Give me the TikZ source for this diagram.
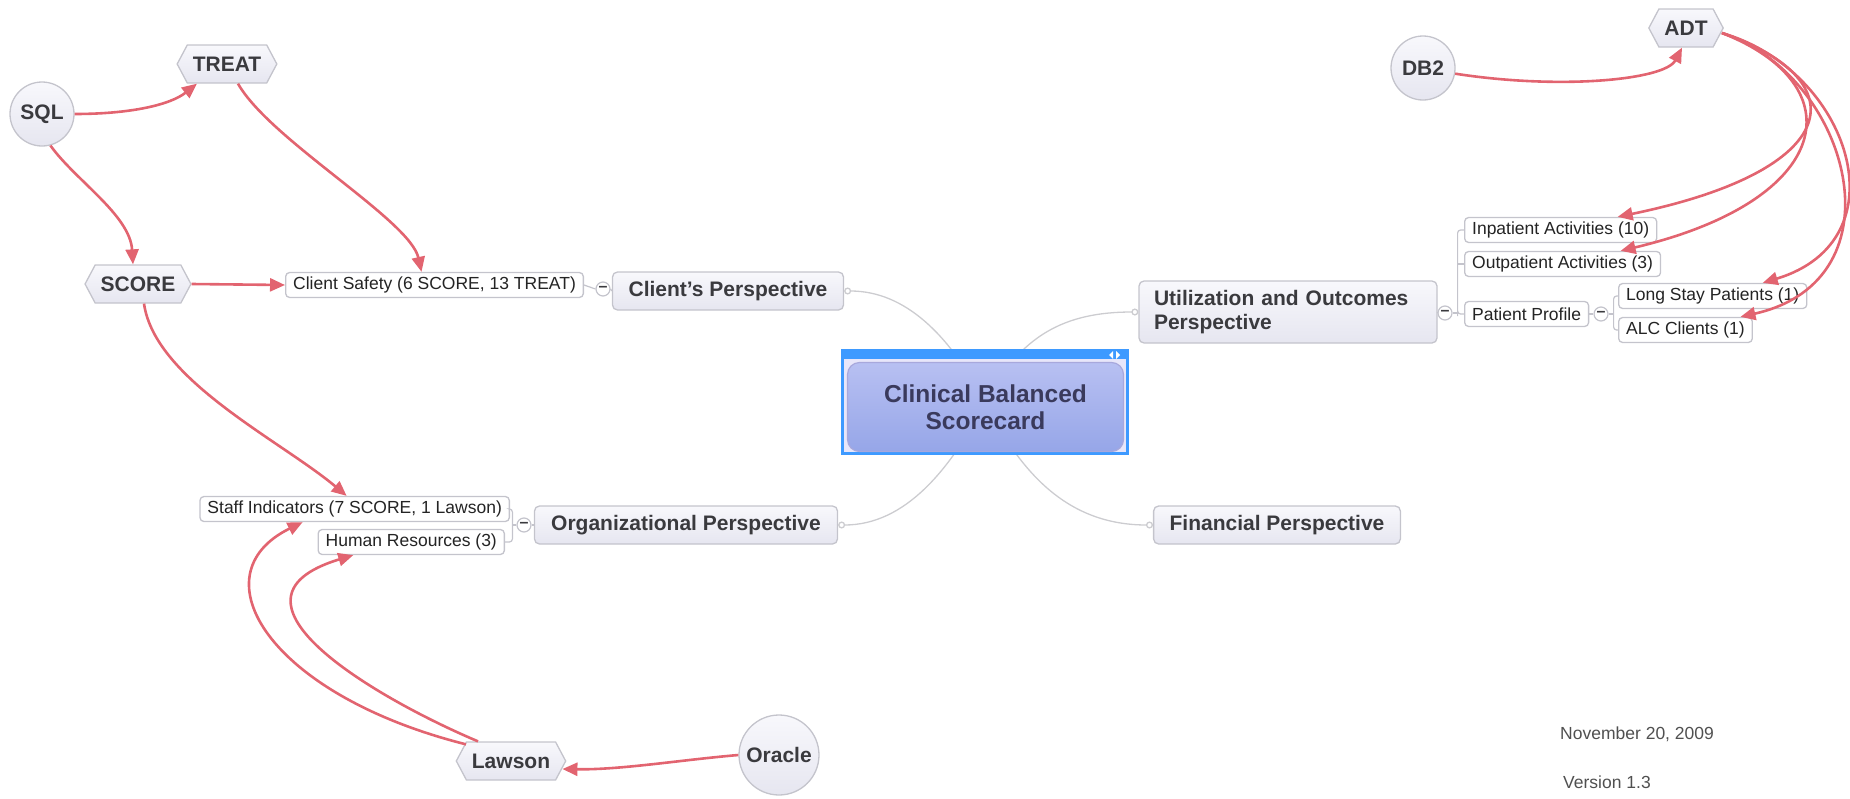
\documentclass[tikz,border=0pt]{standalone}
\usepackage{fontspec}
\setmainfont{Liberation Sans}
\usepackage{tikz}
\usetikzlibrary{positioning,calc,shapes.symbols,arrows.meta}

\definecolor{feedred}{RGB}{226,100,112}
\definecolor{linegrey}{RGB}{196,196,204}
\definecolor{spokegrey}{RGB}{204,204,208}
\definecolor{topfill}{RGB}{248,248,252}
\definecolor{botfill}{RGB}{230,230,240}
\definecolor{topictext}{RGB}{58,58,62}
\definecolor{leaftext}{RGB}{36,36,36}
\definecolor{notetext}{RGB}{80,80,80}
\definecolor{selblue}{RGB}{62,154,255}
\definecolor{selfill}{RGB}{232,230,250}
\definecolor{hubtop}{RGB}{184,192,242}
\definecolor{hubbot}{RGB}{150,166,232}
\definecolor{hubedge}{RGB}{168,168,220}
\definecolor{hubtext}{RGB}{58,58,92}

\begin{document}
\begin{tikzpicture}[x=1pt,y=-1pt,
  topic/.style={draw=linegrey,line width=1.3pt,rounded corners=5pt,top color=topfill,bottom color=botfill,
    text=topictext,font=\fontsize{21}{24}\selectfont\bfseries,minimum height=38pt,inner xsep=16pt},
  leaf/.style={draw=linegrey,line width=1.3pt,rounded corners=4pt,fill=white,text=leaftext,
    font=\fontsize{17.5}{20}\selectfont,minimum height=25pt,inner xsep=7.5pt,inner ysep=2pt},
  hexsrc/.style={signal,signal to=east and west,signal pointer angle=124,draw=linegrey,line width=1.3pt,
    top color=topfill,bottom color=botfill,text=topictext,font=\fontsize{21}{24}\selectfont\bfseries,
    minimum height=38pt,inner xsep=5.5pt},
  dbsrc/.style={circle,draw=linegrey,line width=1.3pt,top color=topfill,bottom color=botfill,
    text=topictext,font=\fontsize{21}{24}\selectfont\bfseries,minimum size=64pt,inner sep=0pt},
  fold/.style={circle,draw=linegrey,line width=1.2pt,fill=white,minimum size=14pt,inner sep=0pt,
    text=topictext,font=\fontsize{16}{16}\selectfont\bfseries},
  hub/.style={draw=hubedge,line width=1.2pt,rounded corners=12pt,top color=hubtop,bottom color=hubbot,
    minimum width=276pt,minimum height=89pt,align=center,text=hubtext,
    font=\fontsize{24.5}{27}\selectfont\bfseries},
  feed/.style={draw=feedred,line width=2.6pt,-{Triangle[length=15pt,width=13pt]}},
  spoke/.style={draw=spokegrey,line width=1.3pt,{Circle[length=7pt,fill=white]}-},
  tree/.style={draw=linegrey,line width=1.2pt,rounded corners=3pt},
  note/.style={text=notetext,font=\fontsize{17.5}{20}\selectfont,anchor=west,inner sep=0pt}]
\useasboundingbox (0,0) rectangle (1850,798);

% sources
\node [dbsrc] (SQL) at (42,114) {SQL};
\node [hexsrc] (TREAT) at (227,64) {TREAT};
\node [hexsrc] (SCORE) at (138,284) {SCORE};
\node [dbsrc] (DB2) at (1423,68) {DB2};
\node [hexsrc] (ADT) at (1686,28) {ADT};
\node [hexsrc] (LAW) at (511,761) {Lawson};
\node [dbsrc,minimum size=80pt] (ORA) at (779,755) {Oracle};

% perspectives
\node [topic,minimum width=231pt] (CP) at (728,291) {Client's Perspective};
\node [topic,minimum width=303pt] (OP) at (686,525) {Organizational Perspective};
\node [topic,minimum width=246pt] (FP) at (1277,525) {Financial Perspective};
\node [topic,align=left,text width=268pt,inner xsep=15pt,minimum height=62pt] (UO) at (1288,312) {Utilization and Outcomes\\Perspective};

% leaves
\node [fold] (CPm) at (603,289) {--};
\node [leaf,anchor=east] (CS) at (584,285) {Client Safety (6 SCORE, 13 TREAT)};
\node [fold] (OPm) at (524,525) {--};
\node [leaf,anchor=east] (SI) at (510,509) {Staff Indicators (7 SCORE, 1 Lawson)};
\node [leaf,anchor=east] (HR) at (505,542) {Human Resources (3)};
\node [fold] (UOm) at (1445,313) {--};
\node [leaf,anchor=west] (IP) at (1464,230) {Inpatient Activities (10)};
\node [leaf,anchor=west] (OUTP) at (1464,264) {Outpatient Activities (3)};
\node [leaf,anchor=west] (PP) at (1464,314) {Patient Profile};
\node [fold] (PPm) at (1601,314) {--};
\node [leaf,anchor=west] (LS) at (1618,296) {Long Stay Patients (1)};
\node [leaf,anchor=west] (ALC) at (1618,330) {ALC Clients (1)};

% spokes to the central topic
\coordinate (hubc) at (985,403);
\draw [spoke] (CP.east) .. controls (905,291) and (950,335) .. (hubc);
\draw [spoke] (UO.west) .. controls (1065,312) and (1020,335) .. (hubc);
\draw [spoke] (OP.east) .. controls (905,525) and (950,470) .. (hubc);
\draw [spoke] (FP.west) .. controls (1065,525) and (1020,470) .. (hubc);

\node [draw=selblue,line width=3pt,fill=selfill,minimum width=285pt,minimum height=103pt,inner sep=0pt] (SEL) at (985,402) {};
\fill [selblue] (SEL.north west) rectangle ($(SEL.north east)+(0,10)$);
\fill [white] (1113,351) -- (1113,359) -- (1109,355) -- cycle;
\fill [white] (1116,351) -- (1116,359) -- (1120,355) -- cycle;
\node [hub] (CBS) at (985.5,407) {Clinical Balanced\\Scorecard};

% tree lines
\draw [tree] (CS.east) -- (CPm.west);
\draw [tree] (CPm.east) -- (CP.west);
\coordinate (OPb) at ($(OPm.west)+(-4,0)$);
\draw [tree] (OP.west) -- (OPm.east);
\draw [tree] (OPm.west) -- (OPb);
\draw [tree] (SI.east) -| (OPb) |- (HR.east);
\coordinate (UOb) at ($(UOm.east)+(5,0)$);
\draw [tree] (UO.east) -- (UOm.west);
\draw [tree] (UOm.east) -- (UOb);
\draw [tree] (IP.west) -| (UOb) |- (PP.west);
\draw [tree] (OUTP.west) -- (OUTP.west -| UOb);
\coordinate (PPb) at ($(PPm.east)+(5,0)$);
\draw [tree] (PP.east) -- (PPm.west);
\draw [tree] (PPm.east) -- (PPb);
\draw [tree] (LS.west) -| (PPb) |- (ALC.west);

% data feeds
\draw [feed] (SQL.east) .. controls (130,114) and (170,105) .. ($(TREAT.south)+(-30,0)$);
\draw [feed] ($(TREAT.south)+(11,0)$) .. controls (270,140) and (410,220) .. ($(CS.north)+(-13,0)$);
\draw [feed] (SQL.-75) .. controls (75,180) and (130,215) .. ($(SCORE.north)+(-5,0)$);
\draw [feed] (SCORE.east) -- (CS.west);
\draw [feed] ($(SCORE.south)+(6,0)$) .. controls (155,380) and (280,440) .. ($(SI.north)+(-8,0)$);
\draw [feed] ($(LAW.north)+(-45,3)$) .. controls (270,695) and (195,575) .. ($(SI.south)+(-52,0)$);
\draw [feed] ($(LAW.north)+(-33,0)$) .. controls (380,700) and (205,600) .. ($(HR.south)+(-58,0)$);
\draw [feed] (ORA.west) .. controls (680,760) and (620,770) .. ($(LAW.east)+(-4,8)$);
\draw [feed] (DB2.-10) .. controls (1560,90) and (1665,80) .. ($(ADT.south)+(-4,0)$);
\draw [feed] ($(ADT.east)+(-2,5)$) .. controls (1858,80) and (1845,170) .. ($(IP.north)+(57,0)$);
\draw [feed] ($(ADT.east)+(-2,5)$) .. controls (1855,85) and (1835,200) .. ($(OUTP.north)+(58,0)$);
\draw [feed] ($(ADT.east)+(-2,5)$) .. controls (1850,70) and (1905,240) .. ($(LS.north)+(50,0)$);
\draw [feed] ($(ADT.east)+(-2,5)$) .. controls (1850,75) and (1905,280) .. ($(ALC.north)+(55,0)$);

% footer
\node [note] (DATE) at (1560,734) {November 20, 2009};
\node [note] (VER) at (1563,782) {Version 1.3};
\end{tikzpicture}
\end{document}
